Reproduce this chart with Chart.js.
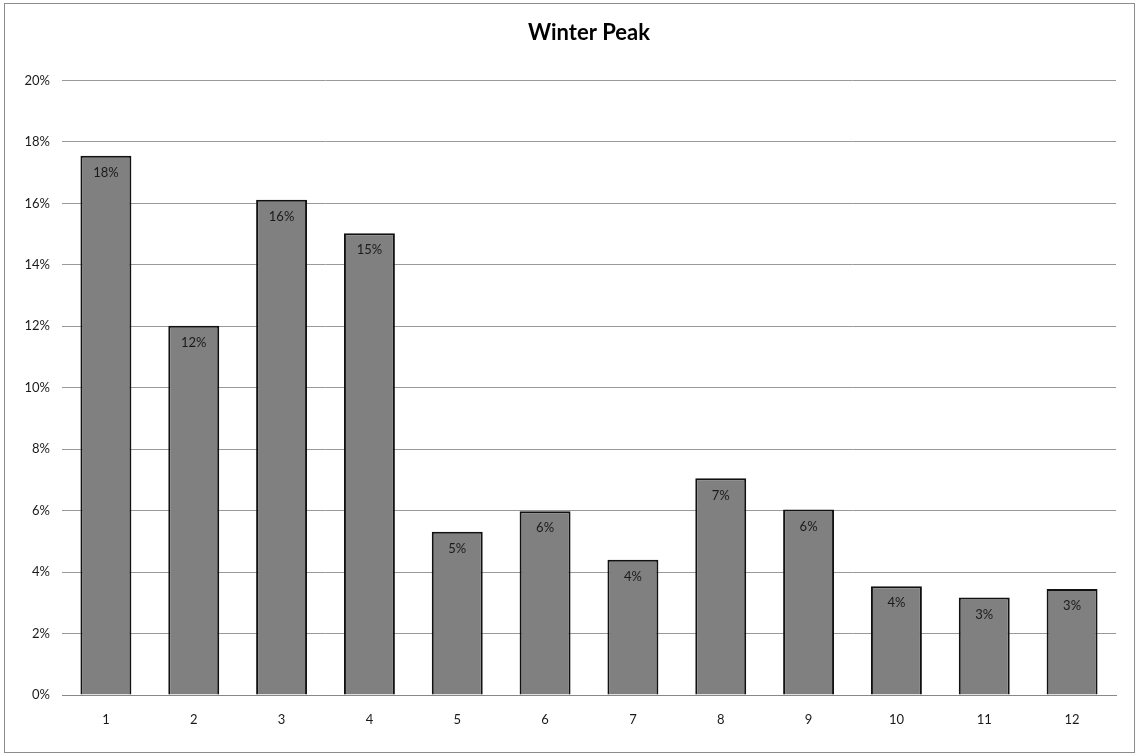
<!DOCTYPE html>
<html>
<head>
<meta charset="utf-8">
<script src="https://cdn.jsdelivr.net/npm/chart.js@4/dist/chart.umd.min.js"></script>
<style>
  html, body { margin: 0; padding: 0; background: #fff; }
  #frame {
    position: absolute; left: 4px; top: 3px;
    width: 1131px; height: 750px;
    border: 1px solid #8c8c8c; box-sizing: border-box;
  }
  #wrap { position: absolute; left: 0; top: 0; right: 0; bottom: 0; }
</style>
</head>
<body>
<div id="frame"><div id="wrap"><canvas id="peakChart"></canvas></div></div>
<script>
/* ── Winter Peak bar chart ── */
const months = ["1","2","3","4","5","6","7","8","9","10","11","12"];
const shares = [17.55, 12.02, 16.12, 15.03, 5.31, 5.98, 4.40, 7.05, 6.04, 3.54, 3.17, 3.45];
const yTicks = [0, 2, 4, 6, 8, 10, 12, 14, 16, 18, 20];

const FONT = "Lato, 'Open Sans', sans-serif";

/* value labels drawn inside the top of each bar */
const barLabels = {
  id: "barLabels",
  afterDatasetsDraw(chart) {
    const ctx = chart.ctx;
    const meta = chart.getDatasetMeta(0);
    ctx.save();
    ctx.font = "13px " + FONT;
    ctx.fillStyle = "#1a1a1a";
    ctx.textAlign = "center";
    ctx.textBaseline = "middle";
    meta.data.forEach((bar, i) => {
      ctx.fillText(Math.round(shares[i]) + "%", bar.x, bar.y + 17);
    });
    ctx.restore();
  }
};

new Chart(document.getElementById("peakChart"), {
  type: "bar",
  data: {
    labels: months,
    datasets: [{
      data: shares,
      backgroundColor: "#808080",
      borderColor: "#111",
      borderWidth: 2,
      barPercentage: 0.58,
      categoryPercentage: 1.0
    }]
  },
  plugins: [barLabels],
  options: {
    responsive: true,
    maintainAspectRatio: false,
    animation: false,
    layout: { padding: { left: 0, right: 18, top: 0, bottom: 0 } },
    plugins: {
      legend: { display: false },
      tooltip: { enabled: false },
      title: {
        display: true,
        fullSize: false,
        text: "Winter Peak",
        color: "#000",
        font: { family: FONT, size: 22, weight: "bold" },
        padding: { top: 16, bottom: 34 }
      }
    },
    scales: {
      x: {
        grid: { display: false, drawTicks: false },
        border: { display: true, color: "#888", width: 1 },
        ticks: { color: "#1a1a1a", font: { family: FONT, size: 13 }, padding: 17, maxRotation: 0 },
        afterFit: s => { s.height = 57; }
      },
      y: {
        min: 0, max: 20,
        afterBuildTicks: s => { s.ticks = yTicks.map(v => ({ value: v })); },
        grid: { color: "#999", lineWidth: 1, drawTicks: false },
        border: { display: false },
        ticks: {
          color: "#1a1a1a", font: { family: FONT, size: 13 }, padding: 12,
          callback: v => v + "%"
        },
        afterFit: s => { s.width = 57; }
      }
    }
  }
});
</script>
</body>
</html>
